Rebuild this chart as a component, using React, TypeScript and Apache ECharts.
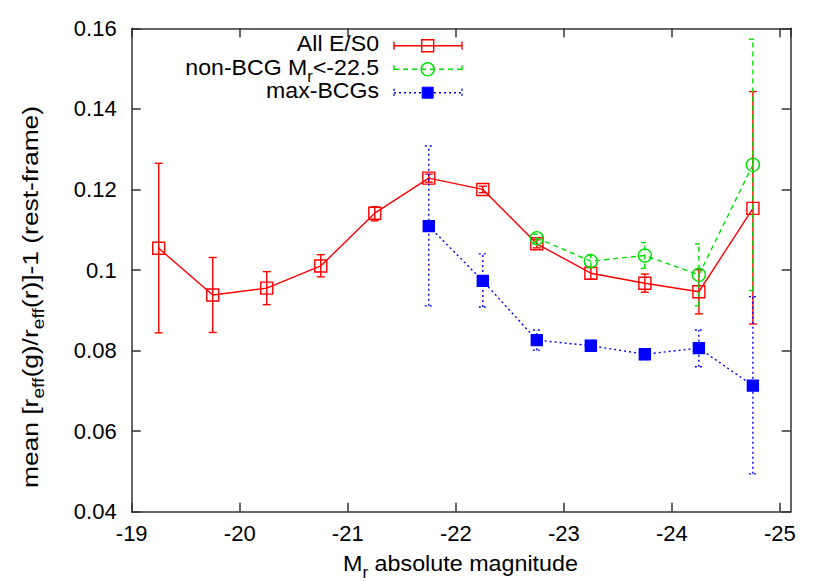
import React, { useEffect, useRef } from "react";
import * as echarts from "echarts";

// ---- Data ----
const allMags = [-19.25, -19.75, -20.25, -20.75, -21.25, -21.75, -22.25, -22.75, -23.25, -23.75, -24.25, -24.75];
const allVals = [0.1054, 0.0938, 0.0955, 0.1010, 0.1141, 0.1228, 0.1200, 0.1065, 0.0992, 0.0967, 0.0946, 0.1153];
const allLow = [0.0844, 0.0845, 0.0914, 0.0983, 0.1122, 0.1218, 0.1192, 0.1055, 0.0977, 0.0945, 0.0891, 0.0866];
const allHigh = [0.1265, 0.1031, 0.0996, 0.1038, 0.1157, 0.1238, 0.1208, 0.1075, 0.1006, 0.0990, 0.1001, 0.1443];

const nonMags = [-22.75, -23.25, -23.75, -24.25, -24.75];
const nonVals = [0.1079, 0.1022, 0.1036, 0.0988, 0.1261];
const nonLow = [0.1069, 0.1006, 0.1004, 0.0911, 0.0949];
const nonHigh = [0.1089, 0.1037, 0.1068, 0.1065, 0.1573];

const bcgMags = [-21.75, -22.25, -22.75, -23.25, -23.75, -24.25, -24.75];
const bcgVals = [0.1109, 0.0973, 0.0826, 0.0812, 0.0791, 0.0806, 0.0713];
const bcgLow = [0.0911, 0.0908, 0.0801, 0.0799, 0.0778, 0.0760, 0.0494];
const bcgHigh = [0.1308, 0.1040, 0.0851, 0.0825, 0.0804, 0.0851, 0.0934];

const xMin = -19;
const xMax = -25.1;
const yMin = 0.04;
const yMax = 0.16;
const yStep = 0.02;

const FONT = "Liberation Sans, Arial, Helvetica, sans-serif";
const RED = "#ff0000";
const GREEN = "#00e000";
const BLUE = "#0000ff";

const richStyles = {
  n: { fontSize: 22, fontFamily: FONT, lineHeight: 28, verticalAlign: "top", fill: "#000" },
  s: { fontSize: 16, fontFamily: FONT, lineHeight: 16, verticalAlign: "bottom", fill: "#000" },
};

export default function App() {
  const ref = useRef<HTMLDivElement>(null);

  useEffect(() => {
    document.body.style.margin = "0";
    if (!ref.current) return;
    const chart = echarts.init(ref.current, undefined, { renderer: "svg" });

    const errSeries = (mags: number[], lo: number[], hi: number[], color: string, dash: any, z: number) => ({
      type: "custom",
      z,
      silent: true,
      data: mags.map((m, i) => [-m, lo[i], hi[i]]),
      encode: { x: 0, y: [1, 2] },
      renderItem: (params: any, api: any) => {
        const x = api.value(0);
        const p1 = api.coord([x, api.value(1)]);
        const p2 = api.coord([x, api.value(2)]);
        const w = 4;
        const style = { stroke: color, lineWidth: 1.4, lineDash: dash, fill: null };
        return {
          type: "group",
          children: [
            { type: "line", shape: { x1: p1[0], y1: p1[1], x2: p2[0], y2: p2[1] }, style },
            { type: "line", shape: { x1: p1[0] - w, y1: p1[1], x2: p1[0] + w, y2: p1[1] }, style },
            { type: "line", shape: { x1: p2[0] - w, y1: p2[1], x2: p2[0] + w, y2: p2[1] }, style },
          ],
        };
      },
    });

    const lineSeries = (name: string, mags: number[], vals: number[], color: string, dash: any, symbol: string, size: number, filled: boolean, z: number) => ({
      type: "line",
      name,
      z,
      data: mags.map((m, i) => [-m, vals[i]]),
      symbol,
      symbolSize: size,
      showAllSymbol: true,
      lineStyle: { color, width: 1.4, type: dash },
      itemStyle: { color: filled ? color : "rgba(0,0,0,0)", borderColor: color, borderWidth: 1.4 },
    });

    const legendRow = (y: number, label: any, color: string, dash: any, marker: any) => {
      const style = { stroke: color, lineWidth: 1.4, lineDash: dash };
      return [
        {
          type: "text",
          x: 379,
          y: y + 1,
          scaleX: 1.05,
          style: {
            text: label,
            font: `22px ${FONT}`,
            fill: "#000",
            align: "right",
            verticalAlign: "middle",
            rich: richStyles,
          },
        },
        { type: "line", shape: { x1: 394, y1: y, x2: 462, y2: y }, style },
        { type: "line", shape: { x1: 394, y1: y - 4, x2: 394, y2: y + 4 }, style },
        { type: "line", shape: { x1: 462, y1: y - 4, x2: 462, y2: y + 4 }, style },
        marker,
      ];
    };

    const axisLineStyle = { color: "#333", width: 1.5 };
    const xCommon = {
      type: "value",
      min: -xMin,
      max: -xMax,
      interval: 1,
      splitLine: { show: false },
      axisLine: { show: true, lineStyle: axisLineStyle },
      axisTick: { show: true, inside: true, length: 9, lineStyle: axisLineStyle },
    };
    const yCommon = {
      type: "value",
      min: yMin,
      max: yMax,
      interval: yStep,
      splitLine: { show: false },
      axisLine: { show: true, lineStyle: axisLineStyle },
      axisTick: { show: true, inside: true, length: 9, lineStyle: axisLineStyle },
    };

    const option: any = {
      animation: false,
      grid: { left: 131.7, top: 28.3, right: 39.3, bottom: 69.3, containLabel: false },
      xAxis: [
        {
          ...xCommon,
          position: "bottom",
          axisLabel: {
            show: true,
            color: "#000",
            fontSize: 22,
            fontFamily: FONT,
            margin: 11,
            showMaxLabel: false,
            formatter: (v: number) => (Math.abs(v - Math.round(v)) < 1e-6 ? String(-Math.round(v)) : ""),
          },
        },
        { ...xCommon, position: "top", axisLabel: { show: false } },
      ],
      yAxis: [
        {
          ...yCommon,
          position: "left",
          axisLabel: {
            show: true,
            color: "#000",
            fontSize: 22,
            fontFamily: FONT,
            margin: 15,
            formatter: (v: number) => String(parseFloat(v.toFixed(4))),
          },
        },
        { ...yCommon, position: "right", axisLabel: { show: false } },
      ],
      series: [
        errSeries(allMags, allLow, allHigh, RED, null, 2),
        lineSeries("All E/S0", allMags, allVals, RED, "solid", "rect", 12, false, 3),
        errSeries(nonMags, nonLow, nonHigh, GREEN, [5, 4], 4),
        lineSeries("non-BCG", nonMags, nonVals, GREEN, [5, 4], "circle", 13, false, 5),
        errSeries(bcgMags, bcgLow, bcgHigh, BLUE, [2, 3], 6),
        lineSeries("max-BCGs", bcgMags, bcgVals, BLUE, [2, 3], "rect", 11, true, 7),
      ],
      graphic: [
        ...legendRow(45.7, "{n|All E/S0}", RED, null, {
          type: "rect",
          shape: { x: 427.7 - 6, y: 45.7 - 6, width: 12, height: 12 },
          style: { fill: "none", stroke: RED, lineWidth: 1.4 },
        }),
        ...legendRow(69.3, "{n|non-BCG M}{s|r}{n|<-22.5}", GREEN, [5, 4], {
          type: "circle",
          shape: { cx: 427.7, cy: 69.3, r: 6.5 },
          style: { fill: "none", stroke: GREEN, lineWidth: 1.4 },
        }),
        ...legendRow(92.7, "{n|max-BCGs}", BLUE, [2, 3], {
          type: "rect",
          shape: { x: 427.7 - 5.5, y: 92.7 - 5.5, width: 11, height: 11 },
          style: { fill: BLUE, stroke: BLUE, lineWidth: 1 },
        }),
        {
          type: "text",
          x: 460.5,
          y: 566,
          scaleX: 1.06,
          style: {
            text: "{n|M}{s|r}{n| absolute magnitude}",
            align: "center",
            verticalAlign: "middle",
            font: `22px ${FONT}`,
            rich: richStyles,
          },
        },
        {
          type: "text",
          x: 33,
          y: 297,
          rotation: Math.PI / 2,
          scaleX: 1.2,
          style: {
            text: "{n|mean [r}{s|eff}{n|(g)/r}{s|eff}{n|(r)]-1 (rest-frame)}",
            align: "center",
            verticalAlign: "middle",
            font: `22px ${FONT}`,
            rich: richStyles,
          },
        },
      ],
    };

    chart.setOption(option);
    return () => chart.dispose();
  }, []);

  return <div ref={ref} style={{ width: 830, height: 581 }} />;
}
